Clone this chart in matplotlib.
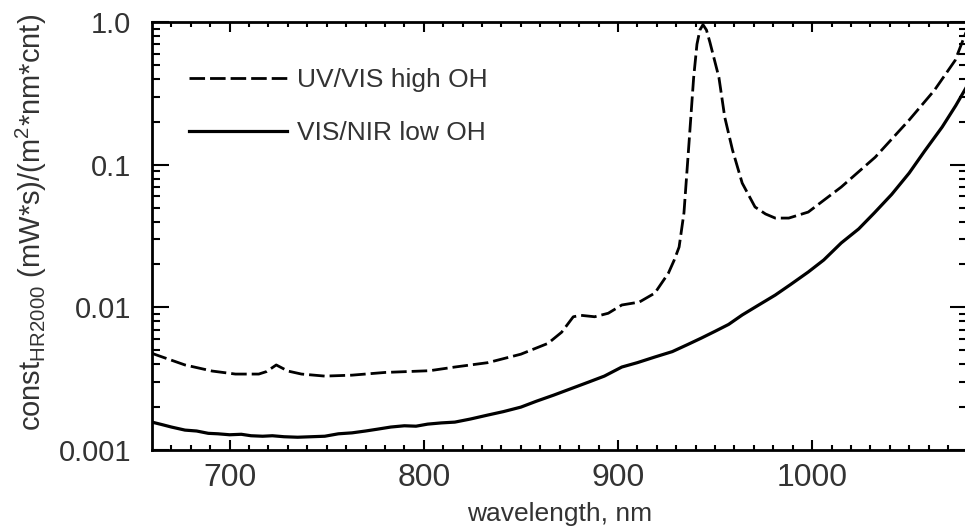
import numpy as np
import matplotlib.pyplot as plt
from matplotlib.ticker import FixedLocator, NullFormatter, LogLocator

plt.rcParams['font.family'] = ['Liberation Sans', 'DejaVu Sans']
plt.rcParams['mathtext.fontset'] = 'custom'
plt.rcParams['mathtext.rm'] = 'Liberation Sans'
plt.rcParams['mathtext.it'] = 'Liberation Sans'

# UV/VIS high OH fibre (dashed)
wl_uv = [660, 661, 677, 691, 703, 715, 719, 724, 730, 737, 749, 763, 780,
         803, 816, 833, 850, 864, 871, 877, 881, 888, 895, 902, 911, 919,
         926, 929, 931.5, 934, 936.6, 939, 940.7, 942.2, 943.8, 945.6,
         947.4, 952, 955, 959, 964, 970.6, 976, 981, 988, 998, 1015, 1032.5,
         1050, 1063, 1073.7, 1080]
const_uv = [0.0048, 0.00471, 0.00395, 0.00358, 0.00341, 0.00341, 0.00355,
            0.00395, 0.00358, 0.00341, 0.0033, 0.00335, 0.0035, 0.0036,
            0.00382, 0.0041, 0.0047, 0.0056, 0.0067, 0.0086, 0.0088, 0.0086,
            0.0091, 0.0104, 0.0109, 0.0126, 0.0174, 0.0215, 0.0265, 0.046,
            0.142, 0.41, 0.7, 0.88, 0.96, 0.88, 0.72, 0.41, 0.216, 0.127,
            0.0744, 0.0506, 0.0452, 0.0423, 0.0423, 0.0466, 0.0698, 0.113,
            0.206, 0.333, 0.54, 0.9]

# VIS/NIR low OH fibre (solid)
wl_nir = [660, 665, 670, 677, 683, 689, 694, 700, 706, 711, 717, 722, 728,
          735, 742, 749, 756, 763, 770, 776, 783, 790, 796, 802, 809, 816,
          824, 833, 841, 850, 858, 867, 876, 885, 893, 902, 910, 919, 928,
          936, 943, 950, 957, 964, 972, 981, 989, 998, 1006, 1015, 1024,
          1032, 1041, 1050, 1058, 1067, 1074, 1080]
const_nir = [0.00157, 0.00151, 0.00145, 0.00138, 0.00136, 0.00131, 0.0013,
             0.00128, 0.00129, 0.00126, 0.00125, 0.00126, 0.00124, 0.00123,
             0.00124, 0.00125, 0.0013, 0.00132, 0.00136, 0.0014, 0.00145,
             0.00148, 0.00147, 0.00152, 0.00155, 0.00157, 0.00165, 0.00176,
             0.00186, 0.002, 0.0022, 0.00243, 0.0027, 0.003, 0.0033, 0.00382,
             0.0041, 0.00449, 0.0049, 0.0055, 0.0061, 0.0068, 0.0076, 0.00885,
             0.0103, 0.0122, 0.0145, 0.0177, 0.0215, 0.0283, 0.0355, 0.0459,
             0.062, 0.0875, 0.125, 0.184, 0.26, 0.36]

fig = plt.figure(figsize=(9.65, 5.27), dpi=100)
ax = fig.add_axes([0.1575, 0.146, 0.845, 0.812])

ax.plot(wl_uv, const_uv, color='black', lw=2.0, dashes=(5.6, 1.8),
        label='UV/VIS high OH')
ax.plot(wl_nir, const_nir, color='black', lw=2.3, label='VIS/NIR low OH')

ax.set_yscale('log')
ax.set_xlim(660, 1080)
ax.set_ylim(0.001, 1.0)

ax.xaxis.set_major_locator(FixedLocator([700, 800, 900, 1000]))
ax.xaxis.set_minor_locator(FixedLocator(np.arange(670, 1080, 10)))
ax.yaxis.set_major_locator(FixedLocator([0.001, 0.01, 0.1, 1.0]))
ax.yaxis.set_minor_locator(LogLocator(base=10, subs=np.arange(2, 10)))
ax.yaxis.set_minor_formatter(NullFormatter())
ax.set_yticklabels(['0.001', '0.01', '0.1', '1.0'])

ax.tick_params(axis='both', which='both', direction='in', top=True,
               right=True, width=1.5, colors='black', labelcolor='#333333',
               labelsize=21)
ax.tick_params(axis='y', which='major', length=12, pad=15)
ax.tick_params(axis='y', which='minor', length=6)
ax.tick_params(axis='x', which='major', length=7, pad=9, labelsize=23)
ax.tick_params(axis='x', which='minor', length=3.5)

for s in ax.spines.values():
    s.set_linewidth(2)

ax.set_xlabel('wavelength, nm', fontsize=19, color='#333333')
ax.xaxis.set_label_coords(0.5, -0.122)
ax.set_ylabel(r'const$_{\mathrm{HR2000}}$ (mW*s)/(m$^2$*nm*cnt)',
              fontsize=21, color='#333333')
ax.yaxis.set_label_coords(-0.126, 0.533)

ax.legend(loc='upper left', bbox_to_anchor=(189 / 965, 1 - 68 / 527),
          bbox_transform=fig.transFigure, frameon=False, fontsize=19,
          handlelength=3.7, handletextpad=0.4, labelspacing=1.1,
          borderpad=0, borderaxespad=0, labelcolor='#333333')

fig.savefig('out.png', dpi=100)
